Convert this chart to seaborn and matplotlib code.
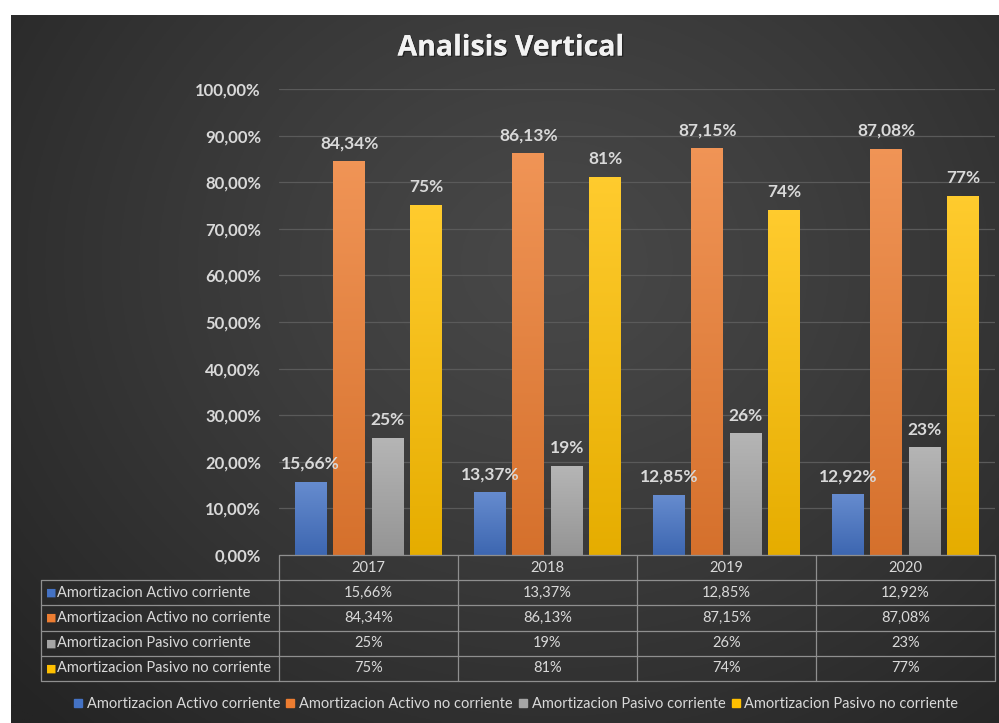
import numpy as np
import pandas as pd
import matplotlib.pyplot as plt
import matplotlib.colors as mcolors
import matplotlib.patheffects as pe
from matplotlib.lines import Line2D
import seaborn as sns

years = ['2017', '2018', '2019', '2020']
series = ['Amortizacion Activo corriente', 'Amortizacion Activo no corriente',
          'Amortizacion Pasivo corriente', 'Amortizacion Pasivo no corriente']
activo_corriente = [15.66, 13.37, 12.85, 12.92]
activo_no_corriente = [84.34, 86.13, 87.15, 87.08]
pasivo_corriente = [25, 19, 26, 23]
pasivo_no_corriente = [75, 81, 74, 77]
decimales = [2, 2, 0, 0]
palette = ['#4472c4', '#ed7d31', '#a5a5a5', '#ffc000']
yticks = [0, 10, 20, 30, 40, 50, 60, 70, 80, 90, 100]

valores = [activo_corriente, activo_no_corriente, pasivo_corriente, pasivo_no_corriente]
df = pd.DataFrame({
    'year': years * 4,
    'serie': np.repeat(series, 4),
    'valor': np.concatenate(valores),
})

def fmt(v, d):
    return f"{v:.{d}f}%".replace('.', ',')

sns.set_style("dark")
plt.rcParams['font.family'] = ['Lato', 'DejaVu Sans']
txt = '#d9d9d9'

W, H = 999, 723
fig = plt.figure(figsize=(W / 100, H / 100), dpi=100, facecolor='white')

# fondo oscuro con degradado radial
bg = fig.add_axes([11 / W, 0, (W - 11) / W, (H - 15) / H])
yy, xx = np.mgrid[0:1:300j, 0:1:400j]
r = np.sqrt(((xx - 0.55) / 0.75) ** 2 + ((yy - 0.35) / 0.9) ** 2)
r = np.clip(r, 0, 1)
dark = np.array(mcolors.to_rgb('#242424'))
light = np.array(mcolors.to_rgb('#484848'))
img = light + (dark - light) * r[..., None] ** 1.2
bg.imshow(img, aspect='auto', extent=[0, 1, 0, 1], origin='upper')
bg.axis('off')

ax = fig.add_axes([279 / W, 1 - 555 / H, (995 - 279) / W, (555 - 89) / H])
ax.patch.set_alpha(0)
sns.barplot(data=df, x='year', y='valor', hue='serie', palette=palette,
            saturation=1, width=0.86, gap=0.17, ax=ax, legend=False,
            linewidth=0, edgecolor='none')

for i, cont in enumerate(ax.containers):
    base = np.array(mcolors.to_rgb(palette[i]))
    top = base + (1 - base) * 0.18
    bot = base * 0.9
    t = np.linspace(0, 1, 256)[:, None, None]
    grad = top + (bot - top) * t
    for j, bar in enumerate(cont):
        x0, w, h = bar.get_x(), bar.get_width(), bar.get_height()
        ax.imshow(grad, extent=[x0, x0 + w, 0, h], aspect='auto',
                  zorder=bar.get_zorder() + 0.1, origin='upper')
        ax.text(x0 + w / 2, h + 2.2, fmt(valores[i][j], decimales[i]),
                ha='center', va='bottom', color=txt, fontsize=12.5,
                fontweight='bold', zorder=5)

ax.set_xlim(-0.5, 3.5)
ax.set_ylim(0, 100)
ax.set_yticks(yticks)
ax.set_yticklabels([fmt(v, 2) for v in yticks], color=txt, fontsize=12,
                   fontweight='bold')
ax.tick_params(axis='y', length=0, pad=13)
ax.set_xticks([])
ax.set_xlabel('')
ax.set_ylabel('')
ax.grid(axis='y', color='#5a5a5a', linewidth=0.9)
ax.set_axisbelow(True)
for s in ax.spines.values():
    s.set_visible(False)

fig.text(511 / W, 1 - 48 / H, 'Analisis Vertical', ha='center', va='center',
         color='#f2f2f2', fontsize=20.5, fontweight='bold', family='Open Sans',
         path_effects=[pe.withSimplePatchShadow(offset=(1, -1),
                                                shadow_rgbFace='black', alpha=0.4),
                       pe.Normal()])

# tabla de datos bajo el grafico
tb = fig.add_axes([41 / W, 1 - 681 / H, (995 - 41) / W, (681 - 555) / H])
left = -0.5 - (279 - 41) / 179
tb.set_xlim(left, 3.5)
tb.set_ylim(5, 0)
tb.axis('off')
lc = '#8f8f8f'
tb.plot([-0.5, 3.5], [0, 0], color=lc, lw=0.9, clip_on=False)
for k in range(1, 6):
    tb.plot([left, 3.5], [k, k], color=lc, lw=0.9, clip_on=False)
tb.plot([left, left], [1, 5], color=lc, lw=0.9, clip_on=False)
for k in range(5):
    xv = -0.5 + k
    tb.plot([xv, xv], [0, 5], color=lc, lw=0.9, clip_on=False)
for j, y in enumerate(years):
    tb.text(j, 0.5, y, ha='center', va='center', color=txt, fontsize=10.5)
for i, s in enumerate(series):
    tb.text(left + 0.03, i + 1.5, '\u25a0', ha='left', va='center',
            color=palette[i], fontsize=8, family='DejaVu Sans')
    tb.text(left + 0.09, i + 1.5, s, ha='left', va='center', color=txt,
            fontsize=10.5)
    for j in range(len(years)):
        tb.text(j, i + 1.5, fmt(valores[i][j], decimales[i]), ha='center',
                va='center', color=txt, fontsize=10.5)

handles = [Line2D([], [], marker='s', linestyle='', markersize=6,
                  markerfacecolor=c, markeredgecolor=c) for c in palette]
fig.legend(handles, series, loc='center', bbox_to_anchor=(516 / W, 1 - 704 / H),
           ncol=4, frameon=False, fontsize=10.5, labelcolor=txt,
           handlelength=0.6, handletextpad=0.3, columnspacing=0.4)

fig.savefig('out.png', dpi=100, facecolor='white')
